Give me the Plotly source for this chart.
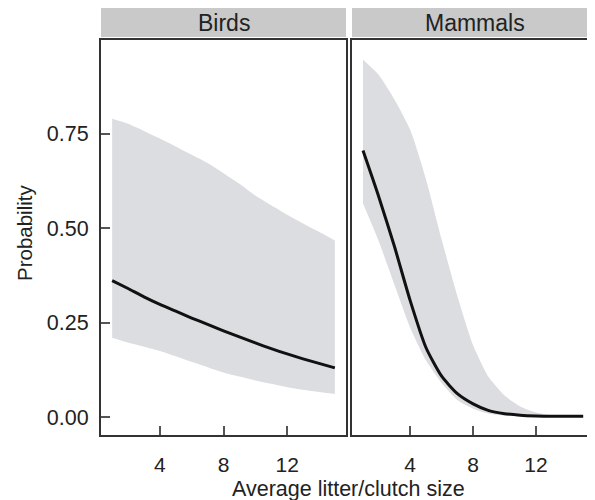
import plotly.graph_objects as go

# ---- data ----
litter_size = [1, 2, 3, 4, 5, 6, 7, 8, 9, 10, 11, 12, 13, 14, 15]

birds_mean = [0.361, 0.340, 0.318, 0.298, 0.280, 0.262, 0.245, 0.228, 0.212, 0.196, 0.181, 0.167, 0.154, 0.142, 0.130]
birds_upper = [0.789, 0.776, 0.757, 0.737, 0.716, 0.694, 0.672, 0.645, 0.617, 0.586, 0.560, 0.535, 0.512, 0.490, 0.467]
birds_lower = [0.210, 0.197, 0.186, 0.175, 0.161, 0.146, 0.132, 0.118, 0.107, 0.097, 0.088, 0.079, 0.072, 0.066, 0.061]

mammals_mean = [0.705, 0.583, 0.451, 0.308, 0.184, 0.108, 0.062, 0.035, 0.017, 0.009, 0.005, 0.003, 0.002, 0.002, 0.002]
mammals_upper = [0.945, 0.905, 0.840, 0.760, 0.630, 0.470, 0.320, 0.190, 0.105, 0.057, 0.028, 0.012, 0.005, 0.003, 0.002]
mammals_lower = [0.565, 0.465, 0.350, 0.237, 0.150, 0.090, 0.045, 0.022, 0.009, 0.004, 0.002, 0.001, 0.001, 0.001, 0.001]

panels = ["Birds", "Mammals"]
x_ticks = [4, 8, 12]
y_ticks = [0, 0.25, 0.5, 0.75]
y_ticklabels = ["0.00", "0.25", "0.50", "0.75"]
x_title = "Average litter/clutch size"
y_title = "Probability"

# ---- style ----
OFF = 8                      # page body margin
W, H = 595 - OFF, 500 - OFF  # figure size
FONT = "Liberation Sans, Arial, Helvetica, sans-serif"
TXT = "#222222"
BAND = "#dcdde0"
LINE = "#111111"
FRAME = "#333333"
STRIP = "#c9c9c9"
TICKFS = 21
STRIPFS = 23

def px(v):
    return (v - OFF) / W

def py(v):
    return 1 - (v - OFF) / H

fig = go.Figure()

series = [
    (birds_mean, birds_upper, birds_lower, "x", "y"),
    (mammals_mean, mammals_upper, mammals_lower, "x2", "y2"),
]
for mean, up, lo, xa, ya in series:
    fig.add_trace(go.Scatter(
        x=litter_size, y=lo, mode="lines",
        line=dict(width=0, color=BAND, shape="spline", smoothing=0.6),
        hoverinfo="skip", showlegend=False, xaxis=xa, yaxis=ya))
    fig.add_trace(go.Scatter(
        x=litter_size, y=up, mode="lines", fill="tonexty", fillcolor=BAND,
        line=dict(width=0, color=BAND, shape="spline", smoothing=0.6),
        hoverinfo="skip", showlegend=False, xaxis=xa, yaxis=ya))
    fig.add_trace(go.Scatter(
        x=litter_size, y=mean, mode="lines",
        line=dict(color=LINE, width=3, shape="spline", smoothing=0.6),
        showlegend=False, xaxis=xa, yaxis=ya))

top_px, bot_px = 40, 435
birds_l, birds_r = 101, 346
mam_l, mam_r = 352, 595

yrange = [-0.0475, 0.9975]
common_x = dict(
    tickmode="array", tickvals=x_ticks, ticks="inside", ticklen=9, tickwidth=1.5,
    tickcolor="#555555", showgrid=False, zeroline=False,
    tickfont=dict(family=FONT, size=TICKFS, color=TXT), ticklabelstandoff=10,
)
fig.update_layout(
    width=W, height=H,
    margin=dict(l=0, r=0, t=0, b=0),
    paper_bgcolor="white", plot_bgcolor="white",
    xaxis=dict(domain=[px(birds_l), px(birds_r)], range=[0.3, 15.7], anchor="y",
               showline=True, mirror=True, linecolor=FRAME, linewidth=2, **common_x),
    xaxis2=dict(domain=[px(mam_l), 1.0], range=[0.3, 15.75], anchor="y2",
                showline=True, mirror=True, linecolor=FRAME, linewidth=2, **common_x),
    yaxis=dict(domain=[py(bot_px), py(top_px)], range=yrange, anchor="x",
               tickmode="array", tickvals=y_ticks, ticktext=y_ticklabels,
               ticks="inside", ticklen=9, tickwidth=1.5, tickcolor="#555555",
               showline=True, mirror=True, linecolor=FRAME, linewidth=2,
               showgrid=False, zeroline=False, ticklabelstandoff=6,
               tickfont=dict(family=FONT, size=TICKFS + 0.5, color=TXT)),
    yaxis2=dict(domain=[py(bot_px), py(top_px)], range=yrange, anchor="x2",
                showticklabels=False, ticks="", showline=True, mirror=False,
                linecolor=FRAME, linewidth=2, showgrid=False, zeroline=False),
)

# strips
strip_top, strip_bot = 7, 37
for name, l, r in [(panels[0], birds_l, birds_r), (panels[1], mam_l, mam_r + 2)]:
    fig.add_shape(type="rect", xref="paper", yref="paper",
                  x0=px(l), x1=min(px(r), 1.0), y0=py(strip_bot), y1=min(py(strip_top), 1.0),
                  fillcolor=STRIP, line=dict(width=0), layer="below")
    fig.add_annotation(text=name, xref="paper", yref="paper",
                       x=px((l + r) / 2), y=py((strip_top + strip_bot) / 2 + 1),
                       showarrow=False, xanchor="center", yanchor="middle",
                       font=dict(family=FONT, size=STRIPFS, color=TXT))

# axis titles
fig.add_annotation(text=x_title, xref="paper", yref="paper",
                   x=px((birds_l + 596) / 2), y=py(489), showarrow=False,
                   xanchor="center", yanchor="middle",
                   font=dict(family=FONT, size=TICKFS + 0.5, color=TXT))
fig.add_annotation(text=y_title, xref="paper", yref="paper",
                   x=px(25), y=py(233), showarrow=False, textangle=-90,
                   xanchor="center", yanchor="middle",
                   font=dict(family=FONT, size=TICKFS - 0.5, color=TXT))

fig.write_html("out.html")
